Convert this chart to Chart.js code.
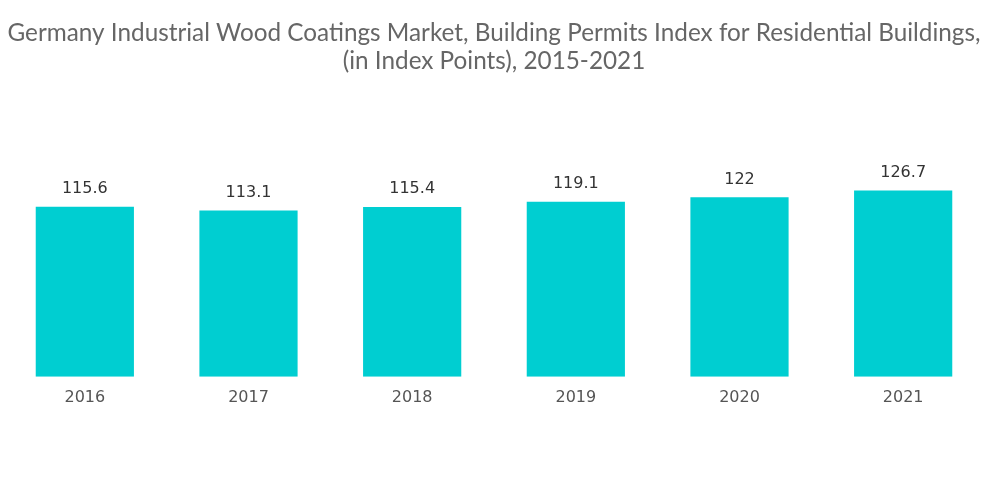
<!DOCTYPE html>
<html><head><meta charset="utf-8">
<script src="https://cdn.jsdelivr.net/npm/chart.js@4"></script>
<style>html,body{margin:0;padding:0;background:#fff}#wrap{width:1000px;height:504px}</style>
</head><body><div id="wrap"><canvas id="c"></canvas></div>
<script>
const categories = ["2016","2017","2018","2019","2020","2021"];
const values = [115.6, 113.1, 115.4, 119.1, 122, 126.7];
const titleLines = ["Germany Industrial Wood Coatings Market, Building Permits Index for Residential Buildings,", "(in Index Points), 2015-2021"];

const labelPlugin = {
  id: 'vlabels',
  afterDatasetsDraw(chart) {
    const ctx = chart.ctx;
    const meta = chart.getDatasetMeta(0);
    ctx.save();
    ctx.font = '16px "DejaVu Sans"';
    ctx.fillStyle = '#333';
    ctx.textAlign = 'center';
    ctx.textBaseline = 'bottom';
    meta.data.forEach((bar, i) => {
      ctx.fillText(String(values[i]), bar.x, bar.y - 10);
    });
    ctx.restore();
  }
};

new Chart(document.getElementById('c'), {
  type: 'bar',
  data: { labels: categories, datasets: [{ data: values, backgroundColor: '#00CED1', barPercentage: 0.6, categoryPercentage: 1.0 }] },
  options: {
    responsive: true, maintainAspectRatio: false, animation: false,
    layout: { padding: { left: 3, right: 15, top: 0, bottom: 94 } },
    plugins: {
      legend: { display: false },
      tooltip: { enabled: false },
      title: { display: true, text: titleLines, color: '#666', font: { family: 'Lato', size: 24.3, weight: 'normal', lineHeight: 1.15 }, padding: { top: 19, bottom: 96 } }
    },
    scales: {
      x: { grid: { display: false }, border: { display: false }, ticks: { color: '#555', font: { family: 'DejaVu Sans', size: 16 }, padding: 3 } },
      y: { display: false, min: 0, max: 140 }
    }
  },
  plugins: [labelPlugin]
});
</script></body></html>
